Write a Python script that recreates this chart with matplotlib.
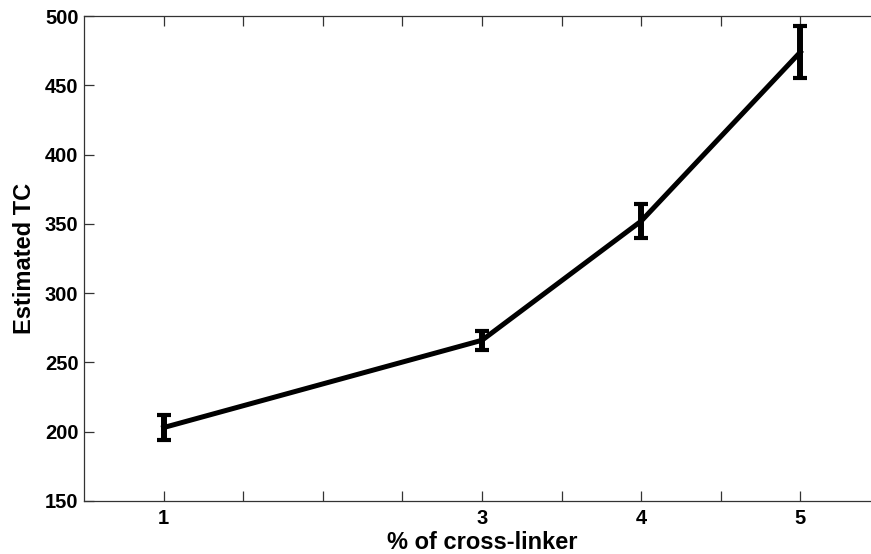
import matplotlib
matplotlib.use("Agg")
import matplotlib.pyplot as plt
import numpy as np

# Cross-linker percentage vs. estimated TC, mean and error
crosslinker = [1, 3, 4, 5]
estimated_tc = [203, 266, 352, 474]
tc_error = [9, 7, 12, 19]

x_tick_labels = ["1", "", "", "", "3", "", "4", "", "5"]
y_ticks = [150, 200, 250, 300, 350, 400, 450, 500]

plt.rcParams["font.family"] = ["Liberation Sans", "DejaVu Sans"]
plt.rcParams["font.weight"] = "bold"

fig = plt.figure(figsize=(8.71, 5.54), dpi=100)
ax = fig.add_axes([84 / 871, (554 - 501) / 554, (880 - 84) / 871, 485 / 554])

ax.errorbar(crosslinker, estimated_tc, yerr=tc_error, color="black",
            linewidth=3.6, elinewidth=4.3, capsize=4.8, capthick=3.0)

ax.set_xlim(0.5, 5.5)
ax.set_ylim(150, 500)
ax.set_xticks(np.arange(1, 5.01, 0.5))
ax.set_xticklabels(x_tick_labels)
ax.set_yticks(y_ticks)

ax.tick_params(axis="both", direction="in", length=7, width=0.9,
               colors="#333333", labelcolor="black", labelsize=14.5)
ax.tick_params(axis="x", top=True, pad=6)
ax.tick_params(axis="y", right=False, pad=4)
for lbl in ax.get_xticklabels() + ax.get_yticklabels():
    lbl.set_fontweight("bold")

for side in ax.spines.values():
    side.set_color("#333333")
    side.set_linewidth(0.9)

ax.set_xlabel("% of cross-linker", fontsize=17, fontweight="bold", labelpad=2)
ax.set_ylabel("Estimated TC", fontsize=17, fontweight="bold", labelpad=6)

fig.savefig("out.png", dpi=100)
